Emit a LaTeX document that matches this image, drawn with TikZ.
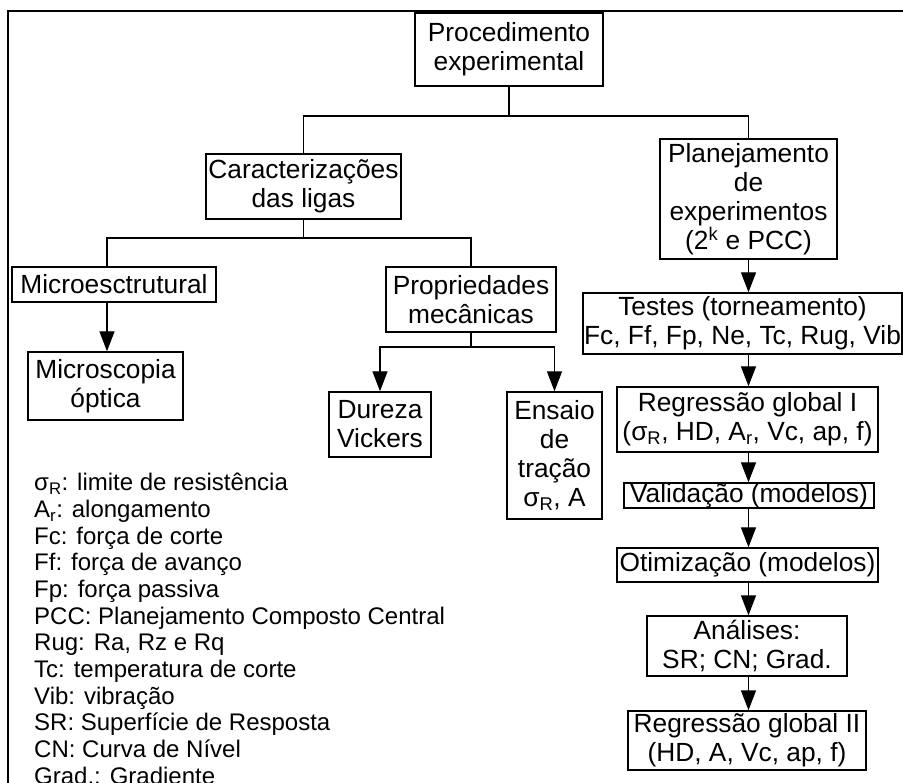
\documentclass[tikz,border=0pt]{standalone}
\usepackage{fontspec}
\setmainfont{Liberation Sans}
\usetikzlibrary{arrows.meta,positioning}

\begin{document}
\begin{tikzpicture}[x=1pt,y=-1pt,
  caixa/.style={draw,line width=1.4pt,inner sep=0pt,align=center,
    font=\fontsize{26.3}{29}\selectfont},
  liga/.style={line width=1.4pt},
  seta/.style={line width=1.4pt,-{Triangle[width=15pt,length=20pt]}}]
\useasboundingbox (0,0) rectangle (903,783);
% moldura
\draw[line width=2.6pt] (8,800) |- (920,11);
% ramo esquerdo
\node[caixa,minimum width=188,minimum height=73] (proc) at (509,49.5) {Procedimento\\experimental};
\node[caixa,minimum width=195,minimum height=65] (carac) at (303.5,186.5) {Caracterizações\\das ligas};
\node[caixa,minimum width=177,minimum height=120] (plan) at (748.5,199) {Planejamento\\de\\experimentos\\(2\textsuperscript{k} e PCC)};
\node[caixa,minimum width=204,minimum height=35] (micro) at (114,284.5) {Microesctrutural};
\node[caixa,minimum width=155,minimum height=68] (optica) at (105.5,386) {Microscopia\\óptica};
\node[caixa,minimum width=170,minimum height=65] (prop) at (471,299.5) {Propriedades\\mecânicas};
\node[caixa,minimum width=102,minimum height=65] (dureza) at (380,424.5) {Dureza\\Vickers};
\node[caixa,minimum width=95,minimum height=127] (ensaio) at (554.5,455.5) {Ensaio\\de\\tração\\σ\textsubscript{R}, A};
% ramo direito
\node[caixa,minimum width=319,minimum height=61] (testes) at (742.5,323.5) {Testes (torneamento)\\Fc, Ff, Fp, Ne, Tc, Rug, Vib};
\node[caixa,minimum width=261,minimum height=65] (reg1) at (747.5,419.5) {Regressão global I\\(σ\textsubscript{R}, HD, A\textsubscript{r}, Vc, ap, f)};
\node[caixa,minimum width=250,minimum height=25] (valid) at (749,495.5) {Validação (modelos)};
\node[caixa,minimum width=261,minimum height=34] (otim) at (747.5,565) {Otimização (modelos)};
\node[caixa,minimum width=200,minimum height=60] (anal) at (747,646) {Análises:\\SR; CN; Grad.};
\node[caixa,minimum width=238,minimum height=59] (reg2) at (747,740.5) {Regressão global II\\(HD, A, Vc, ap, f)};
% legenda
\node[anchor=north west,align=left,inner sep=0pt,font=\fontsize{24}{26.7}\selectfont] (legenda) at (34,473) {σ\textsubscript{R}: limite de resistência\\
A\textsubscript{r}: alongamento\\
Fc: força de corte\\
Ff: força de avanço\\
Fp: força passiva\\
PCC: Planejamento Composto Central\\
Rug: Ra, Rz e Rq\\
Tc: temperatura de corte\\
Vib: vibração\\
SR: Superfície de Resposta\\
CN: Curva de Nível\\
Grad.: Gradiente};
% ligacoes
\coordinate (j1) at (509,116);
\coordinate (j2) at (107,238);
\coordinate (j3) at (471,347);
\draw[liga] (proc.south) -- (j1);
\draw[liga] (carac.north) |- (j1) -| (plan.north);
\draw[liga] (carac.south) -- (carac.south |- j2);
\draw[liga] (micro.north -| j2) -- (j2) -| (prop.north);
\draw[seta] (micro.south -| j2) -- (optica.north -| j2);
\draw[liga] (prop.south) -- (j3);
\draw[seta] (j3) -| (dureza.north);
\draw[seta] (j3) -| (ensaio.north);
\draw[seta] (plan.south) -- (plan.south |- testes.north);
\draw[seta] (testes.south -| plan.south) -- (reg1.north -| plan.south);
\draw[seta] (reg1.south -| plan.south) -- (valid.north -| plan.south);
\draw[seta] (valid.south -| plan.south) -- (otim.north -| plan.south);
\draw[seta] (otim.south -| plan.south) -- (anal.north -| plan.south);
\draw[seta] (anal.south -| plan.south) -- (reg2.north -| plan.south);
\end{tikzpicture}
\end{document}
